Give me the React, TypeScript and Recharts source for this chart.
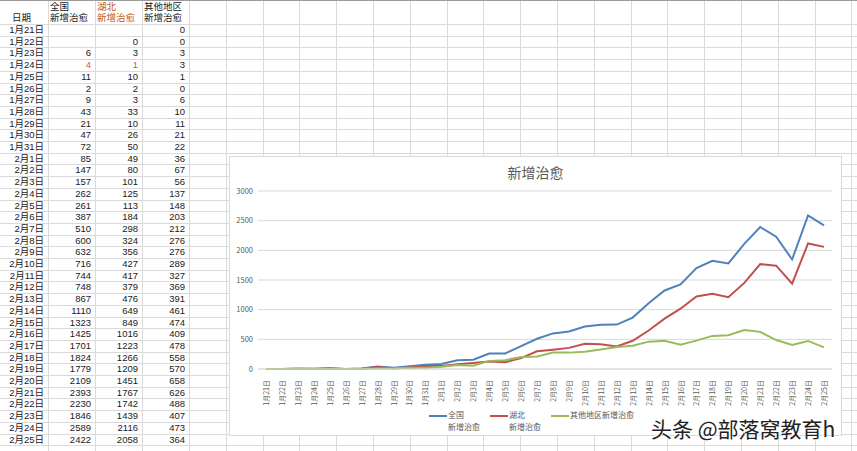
import React from 'react';
import { LineChart, Line, XAxis, YAxis, CartesianGrid } from 'recharts';

const dates = [
  '1月21日', '1月22日', '1月23日', '1月24日', '1月25日', '1月26日', '1月27日', '1月28日', '1月29日',
  '1月30日', '1月31日', '2月1日', '2月2日', '2月3日', '2月4日', '2月5日', '2月6日', '2月7日',
  '2月8日', '2月9日', '2月10日', '2月11日', '2月12日', '2月13日', '2月14日', '2月15日', '2月16日',
  '2月17日', '2月18日', '2月19日', '2月20日', '2月21日', '2月22日', '2月23日', '2月24日', '2月25日',
];

// 全国新增治愈
const national: (number | null)[] = [
  null, null, 6, 4, 11, 2, 9, 43, 21, 47, 72, 85, 147, 157, 262, 261, 387, 510,
  600, 632, 716, 744, 748, 867, 1110, 1323, 1425, 1701, 1824, 1779, 2109, 2393, 2230, 1846, 2589, 2422,
];

// 湖北新增治愈
const hubei: (number | null)[] = [
  null, 0, 3, 1, 10, 2, 3, 33, 10, 26, 50, 49, 80, 101, 125, 113, 184, 298,
  324, 356, 427, 417, 379, 476, 649, 849, 1016, 1223, 1266, 1209, 1451, 1767, 1742, 1439, 2116, 2058,
];

// 其他地区新增治愈
const others: number[] = [
  0, 0, 3, 3, 1, 0, 6, 10, 11, 21, 22, 36, 67, 56, 137, 148, 203, 212,
  276, 276, 289, 327, 369, 391, 461, 474, 409, 478, 558, 570, 658, 626, 488, 407, 473, 364,
];

const yTicks = [0, 500, 1000, 1500, 2000, 2500, 3000];
const redRow = '1月24日';

const series = [
  { key: 'national', label: ['全国', '新增治愈'], color: '#4f81bd' },
  { key: 'hubei', label: ['湖北', '新增治愈'], color: '#c0504d' },
  { key: 'others', label: ['其他地区新增治愈'], color: '#9bbb59' },
];

const chartData = dates.map((d, i) => ({
  date: d,
  national: national[i] ?? 0,
  hubei: hubei[i] ?? 0,
  others: others[i],
}));

const FONT = '"Noto Sans CJK SC", "Noto Sans", sans-serif';
const NUM_FONT = '"Liberation Sans", "Noto Sans CJK SC", sans-serif';
const COLS = [48, 47, 47, 47, ...Array(19).fill(36.8)];
const HEADER_H = 24;
const ROW_H = 11.7;
const GRID = '#dadada';

const XTick = (props: any) => {
  const { x, y, payload } = props;
  const ty = y + 3;
  return (
    <text
      x={x}
      y={ty}
      transform={`rotate(-90 ${x} ${ty})`}
      textAnchor="end"
      dominantBaseline="central"
      fontSize={7}
      fontFamily={FONT}
      fill="#595959"
    >
      {payload.value}
    </text>
  );
};

const Sheet = () => {
  const lefts: number[] = [];
  let acc = 0;
  COLS.forEach((w) => {
    lefts.push(acc);
    acc += w;
  });
  const cell = (left: number, top: number, width: number, text: React.ReactNode, style: React.CSSProperties = {}) => (
    <div
      style={{
        position: 'absolute',
        left,
        top,
        width: width - 4,
        height: ROW_H - 1,
        lineHeight: `${ROW_H - 1}px`,
        fontSize: 9.5,
        fontFamily: NUM_FONT,
        textAlign: 'right',
        whiteSpace: 'nowrap',
        ...style,
      }}
    >
      {text}
    </div>
  );
  const head: React.CSSProperties = { position: 'absolute', top: 1, fontSize: 9.5, lineHeight: '11px' };

  return (
    <>
      {lefts.slice(1).map((l, i) => (
        <div key={`v${i}`} style={{ position: 'absolute', left: l, top: 0, width: 1, height: 451, background: GRID }} />
      ))}
      {Array.from({ length: 37 }).map((_, i) => (
        <div
          key={`h${i}`}
          style={{ position: 'absolute', left: 0, top: HEADER_H + i * ROW_H, width: 857, height: 1, background: GRID }}
        />
      ))}
      <div style={{ position: 'absolute', left: 0, top: 0, width: 857, height: 1, background: '#9a9a9a' }} />

      {/* 表头 */}
      <div style={{ ...head, left: 12, top: 12 }}>日期</div>
      <div style={{ ...head, left: 50 }}>
        全国<br />新增治愈
      </div>
      <div style={{ ...head, left: 97, color: '#c65911' }}>
        湖北<br />新增治愈
      </div>
      <div style={{ ...head, left: 144 }}>
        其他地区<br />新增治愈
      </div>

      {dates.map((d, i) => {
        const top = HEADER_H + i * ROW_H + 1;
        const red = d === redRow ? { color: '#e05050' } : {};
        return (
          <React.Fragment key={d}>
            {cell(lefts[0], top, COLS[0], d)}
            {cell(lefts[1], top, COLS[1], national[i] ?? '', red)}
            {cell(lefts[2], top, COLS[2], hubei[i] ?? '', red)}
            {cell(lefts[3], top, COLS[3], others[i])}
          </React.Fragment>
        );
      })}
    </>
  );
};

const App = () => {
  return (
    <div
      style={{
        position: 'absolute',
        left: 0,
        top: 0,
        width: 857,
        height: 451,
        overflow: 'hidden',
        background: '#fff',
        fontFamily: FONT,
        color: '#1a1a1a',
      }}
    >
      <Sheet />

      <div
        style={{
          position: 'absolute',
          left: 229,
          top: 156,
          width: 613,
          height: 280,
          background: '#fff',
          border: '1px solid #d9d9d9',
          boxSizing: 'border-box',
        }}
      >
        <div
          style={{
            position: 'absolute',
            left: 0,
            top: 5,
            width: '100%',
            textAlign: 'center',
            fontSize: 14,
            color: '#595959',
          }}
        >
          新增治愈
        </div>
        <LineChart width={611} height={278} data={chartData} margin={{ top: 34, right: 9, bottom: 26, left: 0 }}>
          <CartesianGrid vertical={false} stroke="#d9d9d9" />
          <XAxis
            dataKey="date"
            interval={0}
            height={40}
            tick={<XTick />}
            tickLine={false}
            axisLine={{ stroke: '#d9d9d9' }}
            padding={{ left: 8, right: 8 }}
          />
          <YAxis
            width={28}
            domain={[0, 3000]}
            ticks={yTicks}
            axisLine={false}
            tickLine={false}
            tickSize={0}
            tickMargin={5}
            tick={{ fontSize: 7.5, fill: '#595959', fontFamily: FONT }}
          />
          {series.map((s) => (
            <Line
              key={s.key}
              type="linear"
              dataKey={s.key}
              stroke={s.color}
              strokeWidth={2}
              dot={false}
              isAnimationActive={false}
            />
          ))}
        </LineChart>

        {/* 图例 */}
        <div
          style={{
            position: 'absolute',
            left: 0,
            top: 252,
            width: '100%',
            display: 'flex',
            justifyContent: 'center',
            alignItems: 'flex-start',
            fontSize: 8,
            color: '#595959',
          }}
        >
          {series.map((s) => (
            <div key={s.key} style={{ display: 'flex', alignItems: 'flex-start', marginRight: 8 }}>
              <div style={{ width: 18, height: 2, background: s.color, marginTop: 6, marginRight: 1 }} />
              <div style={{ lineHeight: '12px', width: s.label.length > 1 ? 34 : 'auto' }}>
                {s.label.map((t) => (
                  <div key={t}>{t}</div>
                ))}
              </div>
            </div>
          ))}
        </div>
      </div>

      {/* 水印 */}
      <div
        style={{
          position: 'absolute',
          left: 651,
          top: 413,
          fontSize: 21,
          color: '#222',
          whiteSpace: 'nowrap',
          textShadow: '0 0 2px #fff, 0 0 2px #fff',
        }}
      >
        头条 @部落窝教育h
      </div>
    </div>
  );
};

export default App;
